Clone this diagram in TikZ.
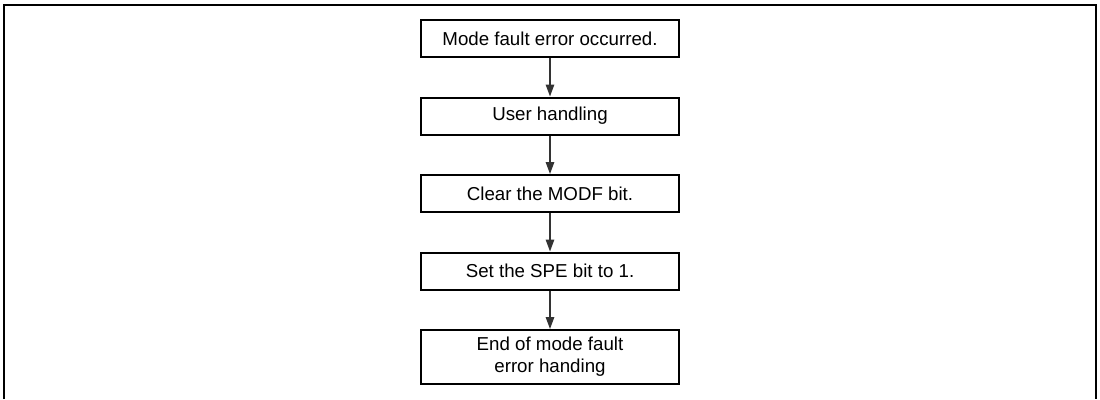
\documentclass[tikz,border=0pt]{standalone}
\usepackage{fontspec}
\setmainfont{Liberation Sans}
\usetikzlibrary{arrows.meta}
\begin{document}
\begin{tikzpicture}[x=1pt,y=-1pt,
  stepbox/.style={draw=black,line width=2pt,minimum width=258pt,minimum height=37pt,inner sep=0pt,
    font=\fontsize{18.7}{22}\selectfont,align=center},
  flow/.style={draw=black!80,line width=1.4pt,-{Triangle[length=12pt,width=8.5pt]}}]
\useasboundingbox (0,0) rectangle (1100,399);
\draw[line width=2.5pt] (4,399) -- (4,5) -- (1096,5) -- (1096,399);
\node[stepbox] (a) at (550,38.5) {Mode fault error occurred.};
\node[stepbox] (b) at (550,116) {User handling};
\node[stepbox] (c) at (550,193.5) {Clear the MODF bit.};
\node[stepbox] (d) at (550,271) {Set the SPE bit to 1.};
\node[stepbox,minimum height=54pt] (e) at (550,357) {End of mode fault\\error handing};
\draw[flow] (a) -- (b);
\draw[flow] (b) -- (c);
\draw[flow] (c) -- (d);
\draw[flow] (d) -- (e);
\end{tikzpicture}
\end{document}
